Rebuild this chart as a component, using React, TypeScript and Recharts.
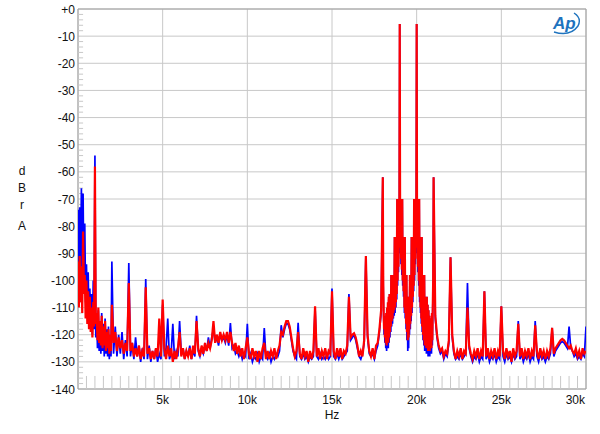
import React from 'react';
import { LineChart, Line, XAxis, YAxis, CartesianGrid, ReferenceLine, ReferenceArea } from 'recharts';

// Frequency grid segments
const VLF_START = 0;      // 0..1950 Hz step 50
const VLF_STEP = 50;
const LOW_START = 2000;   // 2000..17900 Hz step 100
const LOW_STEP = 100;
const IMD_START = 18000;  // 18000..20975 Hz step 25
const IMD_STEP = 25;
const HIGH_START = 21000; // 21000..30000 Hz step 100
const HIGH_STEP = 100;

// Red trace (dBrA)
const redVlf = [
  -93, -110, -91, -108, -95, -112, -82, -105, -98, -114,
  -100, -116, -104, -118, -106, -119, -110, -121, -108, -117,
  -58, -116, -112, -122, -110, -123, -115, -124, -113, -125,
  -117, -124, -115, -126, -119, -125, -118, -127, -120, -126,
];
const redLow = [
  -109, -123, -119, -126, -121, -125, -122, -127, -123, -126,
  -101, -126, -123, -128, -125, -128, -124, -129, -126, -128,
  -102.5, -127, -125, -129, -126, -129, -125, -128, -114, -128,
  -107, -125, -129, -124, -128, -125, -130, -126, -129, -125,
  -119, -128, -125, -129, -126, -128, -125, -129, -124, -127,
  -115, -125, -128, -124, -127, -123, -126, -123, -125, -122,
  -115, -123, -120, -123, -119, -122, -120, -122, -119, -123,
  -119, -123, -126, -123, -127, -124, -128, -125, -129, -125,
  -121, -127, -129, -125, -128, -126, -130, -126, -129, -125,
  -123, -129, -126, -129, -126, -128, -125, -129, -126, -124,
  -119, -120, -117, -115, -115, -117, -121, -125, -128, -126,
  -119, -127, -129, -125, -128, -126, -130, -126, -129, -126,
  -109.5, -128, -125, -129, -126, -128, -125, -129, -126, -127,
  -104, -126, -129, -125, -128, -125, -129, -126, -127, -124,
  -106, -121, -120, -119.5, -121, -124, -128, -126, -128, -122,
  -91, -120, -126, -128, -125, -129, -124, -123, -118, -111,
];
const redImd = [
  -62, -100, -112, -118, -113, -121, -114, -123, -112, -124,
  -110, -122, -108, -123, -106, -121, -105, -119, -106, -117,
  -98, -115, -98, -114, -98, -112, -98, -111, -84, -110,
  -84, -108, -84, -105, -70, -100, -70, -95, -70, -88,
  -5.5, -85, -70, -92, -70, -96, -70, -100, -84, -104,
  -84, -110, -84, -112, -98, -116, -98, -119, -106, -122,
  -108, -121, -106, -118, -98, -116, -98, -113, -84, -110,
  -84, -106, -84, -102, -70, -98, -70, -92, -70, -86,
  -5.5, -88, -70, -95, -70, -100, -70, -106, -84, -110,
  -84, -114, -84, -117, -98, -120, -98, -122, -98, -124,
  -106, -123, -106, -125, -106, -124, -109, -126, -111, -124,
  -113, -126, -114, -123, -116, -125, -112, -122, -110, -100,
];
const redHigh = [
  -62, -113, -120, -124, -126, -125, -128, -126, -127, -122,
  -91.5, -120, -126, -129, -126, -128, -125, -129, -126, -127,
  -110, -124, -127, -129, -126, -128, -125, -129, -126, -128,
  -104, -128, -125, -129, -126, -128, -125, -129, -126, -128,
  -109.5, -126, -129, -125, -128, -126, -130, -125, -128, -126,
  -116, -128, -125, -129, -126, -128, -125, -129, -126, -128,
  -116.5, -126, -129, -125, -128, -126, -129, -126, -128, -125,
  -117.5, -127, -125, -124, -123, -122, -121.5, -122, -123, -124,
  -125, -124, -126, -127, -125, -128, -126, -129, -125, -127,
  -126,
];

// Blue trace (dBrA)
const blueVlf = [
  -74, -104, -73, -100, -66, -95, -68, -102, -79, -108,
  -94, -112, -97, -115, -103, -117, -105, -120, -100, -118,
  -54, -121, -113, -125, -111, -126, -115, -127, -112, -126,
  -116, -128, -114, -127, -118, -128, -117, -129, -121, -128,
];
const blueLow = [
  -93, -127, -117, -128, -120, -127, -119, -129, -122, -128,
  -93.6, -128, -123, -129, -121, -128, -124, -130, -125, -129,
  -99.5, -129, -124, -130, -126, -129, -125, -130, -127, -129,
  -109, -128, -125, -114, -129, -127, -116, -129, -126, -128,
  -115, -127, -125, -129, -126, -128, -124, -129, -126, -128,
  -113, -126, -128, -125, -127, -124, -126, -121, -125, -121,
  -118, -123, -121, -124, -120, -122, -121, -123, -120, -124,
  -115.7, -125, -124, -127, -126, -128, -126, -129, -127, -128,
  -116, -129, -127, -130, -128, -129, -127, -130, -128, -129,
  -117.5, -128, -129, -127, -130, -128, -129, -127, -128, -126,
  -116.5, -121, -118, -116, -116, -118, -122, -126, -128, -129,
  -115.6, -128, -129, -127, -129, -128, -130, -128, -129, -128,
  -110, -128, -129, -127, -129, -128, -129, -127, -129, -128,
  -103, -128, -129, -127, -129, -127, -129, -128, -127, -126,
  -105, -122, -121, -120, -122, -125, -128, -129, -127, -123,
  -91, -121, -127, -128, -127, -129, -126, -124, -119, -112,
];
const blueImd = [
  -62, -102, -113, -120, -114, -123, -115, -125, -113, -126,
  -111, -124, -109, -125, -107, -123, -105, -121, -106, -119,
  -98, -117, -98, -116, -98, -114, -98, -113, -84, -112,
  -84, -110, -84, -107, -70, -102, -70, -97, -70, -90,
  -5.5, -87, -70, -94, -70, -98, -70, -102, -84, -106,
  -84, -112, -84, -114, -98, -118, -98, -122, -106, -126,
  -108, -125, -106, -120, -98, -118, -98, -115, -84, -112,
  -84, -108, -84, -104, -70, -100, -70, -94, -70, -88,
  -5.5, -90, -70, -97, -70, -102, -70, -108, -84, -112,
  -84, -116, -84, -119, -98, -122, -98, -124, -98, -126,
  -106, -125, -106, -127, -106, -126, -109, -128, -111, -126,
  -113, -128, -114, -125, -116, -127, -112, -124, -110, -102,
];
const blueHigh = [
  -62, -114, -121, -125, -127, -126, -129, -127, -128, -123,
  -91.5, -121, -127, -129, -128, -129, -127, -129, -128, -127,
  -101, -125, -128, -130, -128, -129, -127, -130, -128, -129,
  -104, -129, -127, -130, -128, -129, -127, -130, -128, -129,
  -109.5, -128, -130, -127, -129, -128, -130, -127, -129, -128,
  -115, -129, -127, -130, -128, -129, -127, -130, -128, -129,
  -115, -128, -130, -127, -129, -128, -130, -128, -129, -127,
  -117.5, -128, -126, -125, -124, -123, -122.5, -123, -124, -125,
  -117, -125, -126, -128, -127, -129, -128, -129, -127, -128,
  -117,
];

const xTicks = [5000, 10000, 15000, 20000, 25000, 30000];
const yTicks = [0, -10, -20, -30, -40, -50, -60, -70, -80, -90, -100, -110, -120, -130, -140];
const xMinorTicks = Array.from({ length: 59 }, (_, i) => (i + 1) * 500).filter((f) => f % 5000 !== 0);
const yMinorTicks = Array.from({ length: 69 }, (_, i) => -(i + 1) * 2).filter((v) => v % 10 !== 0);

function buildRows() {
  const rows: { f: number; red: number; blue: number }[] = [];
  redVlf.forEach((r, i) => rows.push({ f: VLF_START + i * VLF_STEP, red: r, blue: blueVlf[i] }));
  redLow.forEach((r, i) => rows.push({ f: LOW_START + i * LOW_STEP, red: r, blue: blueLow[i] }));
  redImd.forEach((r, i) => rows.push({ f: IMD_START + i * IMD_STEP, red: r, blue: blueImd[i] }));
  redHigh.forEach((r, i) => rows.push({ f: HIGH_START + i * HIGH_STEP, red: r, blue: blueHigh[i] }));
  return rows;
}
const data = buildRows();

const FONT = '"Liberation Sans", Arial, Helvetica, sans-serif';

const XTick = (props: any) => {
  const { x, y, payload } = props;
  const last = payload.value === 30000;
  return (
    <text x={last ? x - 1 : x} y={y + 7} textAnchor={last ? 'end' : 'middle'} fontFamily={FONT} fontSize={12} fill="#111">
      {payload.value / 1000 + 'k'}
    </text>
  );
};

const YTick = (props: any) => {
  const { x, y, payload } = props;
  const label = payload.value === 0 ? '+0' : String(payload.value);
  return (
    <text x={x} y={y + 4.5} textAnchor="end" fontFamily={FONT} fontSize={12} fill="#111">
      {label}
    </text>
  );
};

export default function App() {
  return (
    <div style={{ position: 'absolute', left: 0, top: 0, width: 600, height: 434, background: '#fff' }}>
      <LineChart
        width={600}
        height={434}
        data={data}
        margin={{ top: 9, right: 14, bottom: 0, left: 0 }}
      >
        <CartesianGrid stroke="#c8c8c8" strokeWidth={1} />
        <XAxis
          dataKey="f"
          type="number"
          domain={[0, 30000]}
          ticks={xTicks}
          tick={<XTick />}
          tickLine={false}
          axisLine={false}
          height={45}
          interval={0}
          allowDataOverflow
        />
        <YAxis
          type="number"
          domain={[-140, 0]}
          ticks={yTicks}
          tick={<YTick />}
          tickLine={false}
          axisLine={false}
          tickSize={0}
          tickMargin={3}
          width={78}
          interval={0}
          allowDataOverflow
        />
        {xMinorTicks.map((f) => (
          <ReferenceLine
            key={'xm' + f}
            segment={[{ x: f, y: -140 }, { x: f, y: -135.2 }]}
            stroke="#c8c8c8"
            strokeWidth={1}
          />
        ))}
        {yMinorTicks.map((v) => (
          <ReferenceLine
            key={'ym' + v}
            segment={[{ x: 0, y: v }, { x: 300, y: v }]}
            stroke="#c8c8c8"
            strokeWidth={1}
          />
        ))}
        <Line
          dataKey="blue"
          stroke="#0000ff"
          strokeWidth={1.7}
          dot={false}
          activeDot={false}
          isAnimationActive={false}
          type="linear"
        />
        <Line
          dataKey="red"
          stroke="#ff0000"
          strokeWidth={2.2}
          dot={false}
          activeDot={false}
          isAnimationActive={false}
          type="linear"
        />
        <ReferenceArea x1={0} x2={30000} y1={-140} y2={0} fill="none" stroke="#a0a0a0" strokeWidth={1} />
      </LineChart>
      <div style={{ position: 'absolute', left: 16, top: 163, width: 12, textAlign: 'center', fontFamily: FONT, fontSize: 12, lineHeight: '17px', color: '#111' }}>
        <div>d</div>
        <div>B</div>
        <div>r</div>
        <div style={{ marginTop: 4 }}>A</div>
      </div>
      <div style={{ position: 'absolute', left: 312, top: 408, width: 40, textAlign: 'center', fontFamily: FONT, fontSize: 12, color: '#111' }}>Hz</div>
      <svg style={{ position: 'absolute', left: 548, top: 10 }} width={36} height={26}>
        <path d="M6 22 Q 22 27 30 16 Q 34 8 26 3" fill="none" stroke="#1e73be" strokeWidth={1.4} />
        <text x={5} y={19} fontFamily={FONT} fontSize={17} fontStyle="italic" fontWeight="bold" fill="#1e73be">Ap</text>
      </svg>
    </div>
  );
}
